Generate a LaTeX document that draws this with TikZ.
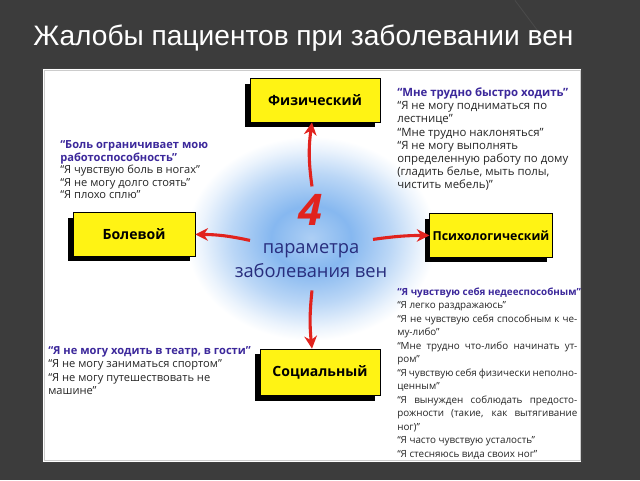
\documentclass[tikz,border=0pt]{standalone}
\usepackage{fontspec}
\setmainfont{Liberation Sans}
\newfontfamily\gothic{Open Sans}
\usetikzlibrary{arrows.meta,shadows}

\definecolor{bgdark}{RGB}{60,60,60}
\definecolor{boxyellow}{RGB}{255,243,20}
\definecolor{arrowred}{RGB}{225,35,30}
\definecolor{quoteblue}{RGB}{60,40,155}
\definecolor{navytext}{RGB}{40,45,125}
\definecolor{glowblue}{RGB}{60,140,230}

\pgfdeclareradialshading{glow}{\pgfpoint{0bp}{0bp}}{%
  color(0bp)=(glowblue!42!white); color(8bp)=(glowblue!62!white);
  color(16bp)=(glowblue!35!white); color(22bp)=(glowblue!10!white);
  color(25bp)=(white); color(50bp)=(white)}

\newcommand{\jline}[1]{\makebox[4.5cm][s]{#1}}
\newcommand{\hd}[1]{\textcolor{quoteblue}{\bfseries #1}}

\tikzset{
  param/.style={draw=black, line width=0.5pt, fill=boxyellow,
    minimum height=1.08cm, inner sep=2pt,
    font=\gothic\bfseries\fontsize{10}{12}\selectfont,
    drop shadow={shadow xshift=-1.3mm, shadow yshift=-1.3mm,
      fill=black, opacity=1}},
  quote/.style={anchor=north west, inner sep=0, align=left, text=black!85},
  redarrow/.style={draw=arrowred, line width=2.2pt,
    -{Stealth[length=9pt,width=9pt]}}
}

\begin{document}
\begin{tikzpicture}[x=0.025cm,y=-0.025cm]
  % background and panel
  \fill[bgdark] (0,0) rectangle (640,480);
  \draw[bgdark!93!white, line width=0.6pt] (515,0) -- (545,40);
  \fill[white] (42,68) rectangle (582,462);
  \draw[black!75, line width=0.8pt] (42,68) rectangle (582,462);
  \draw[black!20, line width=0.6pt] (44,70) rectangle (580,460);

  \node[anchor=base west, inner sep=0, text=white,
    font=\fontsize{20}{24}\selectfont] (title) at (33,45)
    {Жалобы пациентов при заболевании вен};

  % blue glow in the middle
  \shade[shading=glow] (311,238) ellipse [x radius=125, y radius=102];

  \node[text=arrowred, font=\gothic\bfseries\itshape\fontsize{31}{34}\selectfont]
    (num) at (311,210) {4};
  \node[text=navytext, align=center,
    font=\gothic\fontsize{13}{17}\selectfont] (params) at (311,260)
    {параметра\\заболевания вен};

  % the four parameters
  \node[param, minimum width=3.25cm] (fiz) at (315,100) {Физический};
  \node[param, minimum width=3.05cm] (bol) at (134,234) {Болевой};
  \node[param, minimum width=2.95cm,
    font=\gothic\bfseries\fontsize{8.8}{11}\selectfont] (psy) at (491,235)
    {Психологический};
  \node[param, minimum width=3.0cm, minimum height=1.17cm] (soc) at (320,372)
    {Социальный};

  \coordinate (up) at (312,186);
  \coordinate (lt) at (250,240);
  \coordinate (rt) at (373,239);
  \coordinate (dn) at (312,290);
  \draw[redarrow] (up) to[bend left=8] (up |- fiz.south);
  \draw[redarrow] (lt) to[bend right=6] (bol.east);
  \draw[redarrow] (rt) to[bend left=4] (psy.west);
  \draw[redarrow] (dn) to[bend right=6] (dn |- soc.north);

  % complaints
  \node[quote, font=\gothic\fontsize{7.9}{8.9}\selectfont] (painq) at (60,140)
    {\hd{“Боль ограничивает мою}\\
     \hd{работоспособность”}\\
     “Я чувствую боль в ногах”\\
     “Я не могу долго стоять”\\
     “Я плохо сплю”};
  \node[quote, font=\gothic\fontsize{8.1}{9.4}\selectfont] (fizq) at (397,87)
    {\hd{“Мне трудно быстро ходить”}\\
     “Я не могу подниматься по\\
     лестнице”\\
     “Мне трудно наклоняться”\\
     “Я не могу выполнять\\
     определенную работу по дому\\
     (гладить белье, мыть полы,\\
     чистить мебель)”};
  \node[quote, font=\gothic\fontsize{7}{9.6}\selectfont] (psyq) at (397,287)
    {\hd{“Я чувствую себя недееспособным”}\\
     “Я легко раздражаюсь”\\
     \jline{“Я не чувствую себя способным к че-}\\
     му-либо”\\
     \jline{“Мне трудно что-либо начинать ут-}\\
     ром”\\
     \jline{“Я чувствую себя физически неполно-}\\
     ценным”\\
     \jline{“Я вынужден соблюдать предосто-}\\
     \jline{рожности (такие, как вытягивание}\\
     ног)”\\
     “Я часто чувствую усталость”\\
     “Я стесняюсь вида своих ног”};
  \node[quote, font=\gothic\fontsize{7.9}{9.4}\selectfont] (socq) at (48,346)
    {\hd{“Я не могу ходить в театр, в гости”}\\
     “Я не могу заниматься спортом”\\
     “Я не могу путешествовать не\\
     машине”};
\end{tikzpicture}
\end{document}
